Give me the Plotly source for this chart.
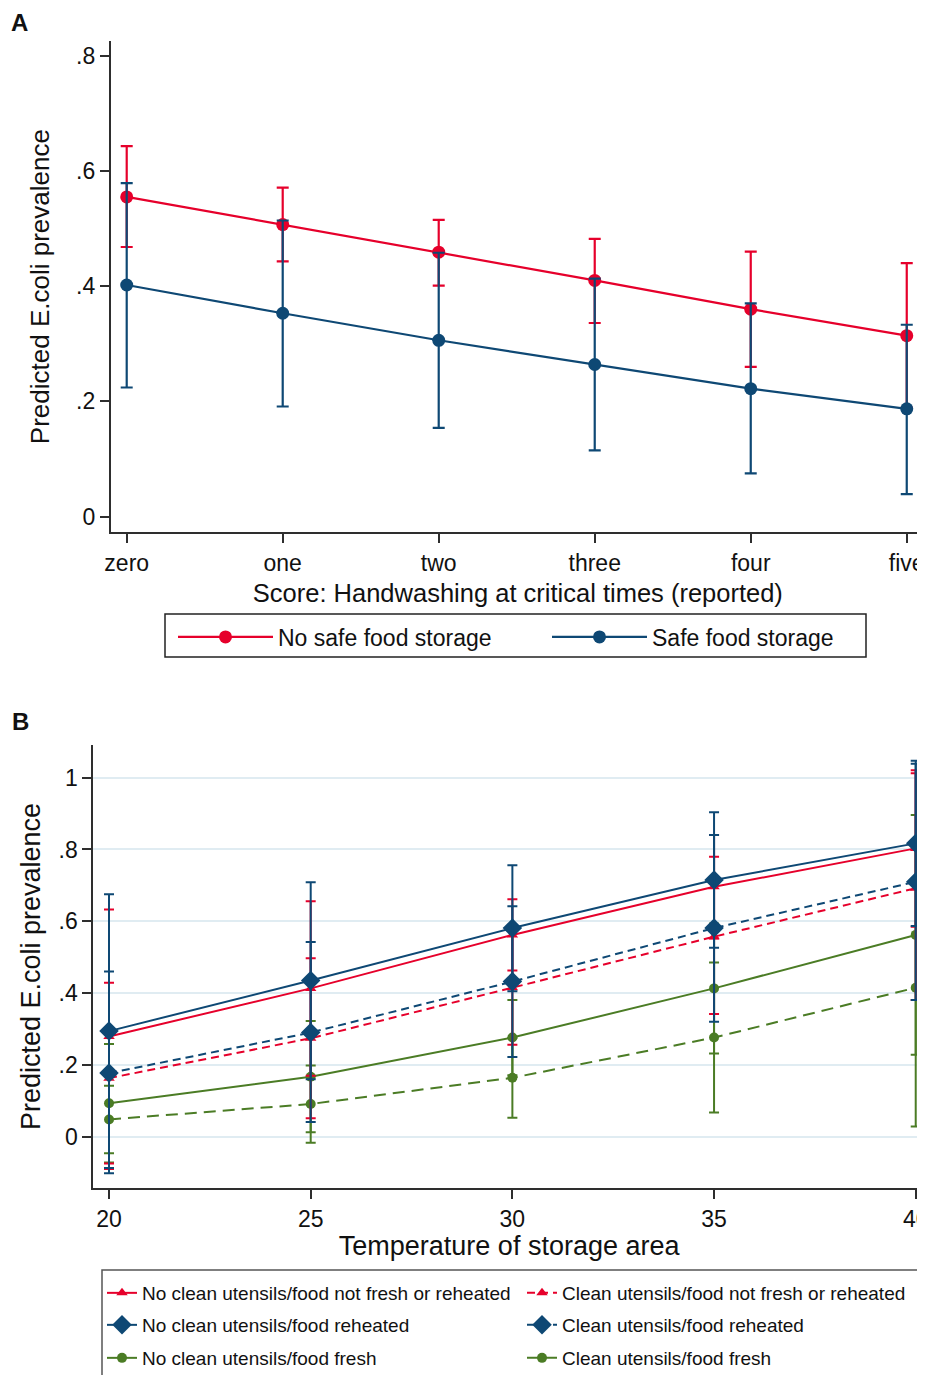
import plotly.graph_objects as go

FONT = "Arial, Liberation Sans, sans-serif"
RED = "#e6002b"
NAVY = "#0e4874"
GREEN = "#4b7c25"
AXIS = "#2e2e2e"
GRID = "#e0ecf2"

# ---------------- Panel A data ----------------
score_labels = ["zero", "one", "two", "three", "four", "five"]
nosafe_est = [0.555, 0.507, 0.459, 0.410, 0.360, 0.314]
nosafe_lo = [0.468, 0.443, 0.401, 0.336, 0.260, 0.189]
nosafe_hi = [0.643, 0.571, 0.515, 0.482, 0.460, 0.440]
safe_est = [0.402, 0.353, 0.306, 0.264, 0.222, 0.187]
safe_lo = [0.224, 0.191, 0.154, 0.115, 0.075, 0.039]
safe_hi = [0.579, 0.514, 0.458, 0.413, 0.370, 0.333]
a_yticks = [0, 0.2, 0.4, 0.6, 0.8]
a_yticktext = ["0", ".2", ".4", ".6", ".8"]

# ---------------- Panel B data ----------------
temps = [20, 25, 30, 35, 40]
ncnf_est = [0.279, 0.413, 0.562, 0.696, 0.803]
ncnf_lo = [-0.075, 0.170, 0.463, 0.552, 0.585]
ncnf_hi = [0.633, 0.656, 0.661, 0.840, 1.021]
cnf_est = [0.163, 0.274, 0.415, 0.557, 0.692]
cnf_lo = [-0.090, 0.051, 0.256, 0.342, 0.381]
cnf_hi = [0.429, 0.497, 0.575, 0.780, 1.012]
ncr_est = [0.294, 0.435, 0.581, 0.715, 0.817]
ncr_lo = [-0.087, 0.160, 0.405, 0.526, 0.587]
ncr_hi = [0.675, 0.709, 0.756, 0.904, 1.047]
cr_est = [0.177, 0.290, 0.432, 0.581, 0.710]
cr_lo = [-0.102, 0.041, 0.222, 0.320, 0.381]
cr_hi = [0.460, 0.542, 0.642, 0.840, 1.039]
ncf_est = [0.093, 0.167, 0.276, 0.413, 0.562]
ncf_lo = [-0.072, 0.012, 0.171, 0.232, 0.228]
ncf_hi = [0.258, 0.322, 0.381, 0.594, 0.896]
cf_est = [0.048, 0.091, 0.164, 0.276, 0.415]
cf_lo = [-0.046, -0.017, 0.053, 0.067, 0.028]
cf_hi = [0.142, 0.198, 0.275, 0.485, 0.802]
b_yticks = [0, 0.2, 0.4, 0.6, 0.8, 1]
b_yticktext = ["0", ".2", ".4", ".6", ".8", "1"]
b_xticks = [20, 25, 30, 35, 40]


def err(est, lo, hi, color, width, thick):
    return dict(type="data", symmetric=False,
                array=[h - e for e, h in zip(est, hi)],
                arrayminus=[e - l for e, l in zip(est, lo)],
                color=color, thickness=thick, width=width)


fig = go.Figure()

# Panel A traces
for name, est, lo, hi, col in [
    ("No safe food storage", nosafe_est, nosafe_lo, nosafe_hi, RED),
    ("Safe food storage", safe_est, safe_lo, safe_hi, NAVY),
]:
    fig.add_trace(go.Scatter(
        x=score_labels, y=est, name=name, mode="lines+markers",
        line=dict(color=col, width=2.2), marker=dict(color=col, size=13, symbol="circle"),
        error_y=err(est, lo, hi, col, 6, 2.2), xaxis="x", yaxis="y", legend="legend"))

# Panel B traces (draw order: green, red, blue); each colour gets its own legend row
b_series = [
    ("No clean utensils/food fresh", ncf_est, ncf_lo, ncf_hi, GREEN, "circle", 10, "solid", "legend4"),
    ("Clean utensils/food fresh", cf_est, cf_lo, cf_hi, GREEN, "circle", 10, "12px,7px", "legend4"),
    ("No clean utensils/food not fresh or reheated", ncnf_est, ncnf_lo, ncnf_hi, RED, "triangle-up", 10, "solid", "legend2"),
    ("Clean utensils/food not fresh or reheated", cnf_est, cnf_lo, cnf_hi, RED, "triangle-up", 10, "8px,5px", "legend2"),
    ("No clean utensils/food reheated", ncr_est, ncr_lo, ncr_hi, NAVY, "diamond", 15, "solid", "legend3"),
    ("Clean utensils/food reheated", cr_est, cr_lo, cr_hi, NAVY, "diamond", 15, "8px,5px", "legend3"),
]
for name, est, lo, hi, col, sym, size, dash, leg in b_series:
    fig.add_trace(go.Scatter(
        x=temps, y=est, name=name, mode="lines+markers",
        line=dict(color=col, width=2, dash=dash),
        marker=dict(color=col, size=size, symbol=sym),
        error_y=err(est, lo, hi, col, 5, 2),
        xaxis="x2", yaxis="y2", legend=leg))

# page coordinates -> paper fractions (the page body adds an 8px offset)
W, H, OFF = 917, 1367, 8


def px(x):
    return (x - OFF) / W


def py(y):
    return 1 - (y - OFF) / H


axis_common = dict(showline=True, linecolor=AXIS, linewidth=1.8, ticks="outside",
                   ticklen=9, tickcolor=AXIS, tickwidth=1.5, zeroline=False,
                   tickfont=dict(family=FONT, size=23, color="#111"))


def leg_b(y_center):
    return dict(orientation="h", x=px(102), xanchor="left", y=py(y_center),
                yanchor="middle", borderwidth=0, bgcolor="rgba(0,0,0,0)",
                font=dict(family=FONT, size=19, color="#111"),
                itemwidth=30, entrywidth=375, entrywidthmode="pixels",
                traceorder="normal")


fig.update_layout(
    width=W, height=H, margin=dict(l=0, r=0, t=0, b=0, autoexpand=False),
    paper_bgcolor="white", plot_bgcolor="white",
    font=dict(family=FONT, color="#111"),
    xaxis=dict(domain=[px(110.7), 1.0], anchor="y", type="category",
               range=[-0.1026, 5.117], showgrid=False, ticklabeloverflow="allow",
               **axis_common,
               title=dict(text="Score: Handwashing at critical times (reported)",
                          font=dict(family=FONT, size=25.5, color="#111"), standoff=10)),
    yaxis=dict(domain=[py(532), py(41.3)], anchor="x",
               range=[-0.0269, 0.8252], tickvals=a_yticks, ticktext=a_yticktext,
               showgrid=False, **axis_common,
               title=dict(text="Predicted E.coli prevalence",
                          font=dict(family=FONT, size=26, color="#111"), standoff=19)),
    yaxis3=dict(overlaying="y", anchor="x", range=[-0.0269, 0.8252],
                tickvals=[0, 0.2, 0.4, 0.6], showticklabels=False, ticks="",
                showgrid=True, gridcolor=GRID, gridwidth=1.5, showline=False, zeroline=False),
    xaxis2=dict(domain=[px(93.3), 1.0], anchor="y2", range=[19.61, 40.23],
                tickvals=b_xticks, showgrid=False, ticklabeloverflow="allow",
                **axis_common,
                title=dict(text="Temperature of storage area",
                           font=dict(family=FONT, size=27, color="#111"), standoff=6)),
    yaxis2=dict(domain=[py(1188), py(745)], anchor="x2",
                range=[-0.143, 1.091], tickvals=b_yticks, ticktext=b_yticktext,
                showgrid=True, gridcolor=GRID, gridwidth=1.5, **axis_common,
                title=dict(text="Predicted E.coli prevalence",
                           font=dict(family=FONT, size=27, color="#111"), standoff=10)),
    legend=dict(orientation="h", x=px(173), xanchor="left", y=py(637), yanchor="middle",
                borderwidth=0, bgcolor="rgba(0,0,0,0)",
                font=dict(family=FONT, size=23, color="#111"),
                itemwidth=95, entrywidth=264, entrywidthmode="pixels"),
    legend2=leg_b(1293),
    legend3=leg_b(1325),
    legend4=leg_b(1358),
    shapes=[
        dict(type="rect", xref="paper", yref="paper", x0=px(165), x1=px(866),
             y0=py(657), y1=py(614), line=dict(color="#222", width=1.5),
             fillcolor="rgba(0,0,0,0)", layer="below"),
        dict(type="rect", xref="paper", yref="paper", x0=px(102), x1=px(918),
             y0=-0.01, y1=py(1270), line=dict(color="#555", width=1.5),
             fillcolor="rgba(0,0,0,0)", layer="below"),
    ],
    annotations=[
        dict(text="<b>A</b>", x=px(10), y=1.0, xref="paper", yref="paper",
             xanchor="left", yanchor="top", showarrow=False, borderpad=0,
             font=dict(family=FONT, size=24, color="#111")),
        dict(text="<b>B</b>", x=px(10), y=py(721), xref="paper", yref="paper",
             xanchor="left", yanchor="middle", showarrow=False,
             font=dict(family=FONT, size=24, color="#111")),
    ],
)

fig.write_html("out.html")
